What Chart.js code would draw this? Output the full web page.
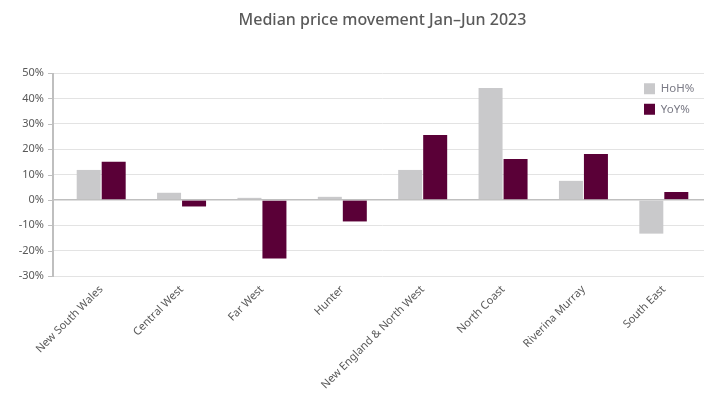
<!DOCTYPE html>
<html>
<head>
<meta charset="utf-8">
<script src="https://cdn.jsdelivr.net/npm/chart.js@4/dist/chart.umd.min.js"></script>
<style>
html,body{margin:0;padding:0;background:#fff;}
#wrap{width:726px;height:409px;}
</style>
</head>
<body>
<div id="wrap"><canvas id="c" width="726" height="409"></canvas></div>
<script>
const categories = ["New South Wales","Central West","Far West","Hunter","New England & North West","North Coast","Riverina Murray","South East"];
const hohValues = [11.8, 2.8, 0.8, 1.2, 11.8, 44.1, 7.5, -13.3];
const yoyValues = [15.0, -2.6, -23.1, -8.5, 25.6, 16.1, 18.1, 3.1];
const yTickMin = -30, yTickMax = 50, yTickStep = 10;
const titleText = "Median price movement Jan\u2013Jun 2023";

const FONT = "'Noto Sans', 'DejaVu Sans', sans-serif";
const TXT = '#595959';

const axisPlugin = {
  id: 'axisPlugin',
  afterLayout(chart) {
    const lg = chart.legend;
    if (lg) {
      lg.left = chart.chartArea.right - 69;
      lg.top = chart.chartArea.top + 1;
    }
  },
  afterDatasetsDraw(chart) {
    const y = chart.scales.y, ca = chart.chartArea, ctx = chart.ctx;
    const ax = ca.left - 8;
    ctx.save();
    ctx.strokeStyle = '#bfbfbf';
    ctx.lineWidth = 2;
    ctx.beginPath();
    ctx.moveTo(ax, ca.top);
    ctx.lineTo(ax, ca.bottom + 1);
    ctx.stroke();
    ctx.lineWidth = 1;
    y.ticks.forEach((t, i) => {
      const py = Math.round(y.getPixelForTick(i)) + 0.5;
      ctx.beginPath();
      ctx.moveTo(ax - 5, py);
      ctx.lineTo(ax, py);
      ctx.stroke();
    });
    ctx.restore();
  }
};

new Chart(document.getElementById('c'), {
  type: 'bar',
  data: {
    labels: categories,
    datasets: [
      { label: 'HoH%', data: hohValues, backgroundColor: '#c9c9cb', categoryPercentage: 0.622, barPercentage: 0.96 },
      { label: 'YoY%', data: yoyValues, backgroundColor: '#5a0037', categoryPercentage: 0.622, barPercentage: 0.96 }
    ]
  },
  options: {
    responsive: false,
    animation: false,
    devicePixelRatio: 1,
    layout: { padding: { left: 0, right: 22, top: 0, bottom: 0 } },
    plugins: {
      title: {
        display: true, text: titleText, fullSize: false,
        color: '#5a5a5a', font: { family: FONT, size: 16, weight: '500', lineHeight: 1.2 },
        padding: { top: 11, bottom: 42.8 }
      },
      legend: {
        position: 'chartArea', align: 'start',
        labels: { boxWidth: 11, boxHeight: 11, padding: 9, color: '#7a7a85', font: { family: FONT, size: 11.5 } }
      },
      tooltip: { enabled: false }
    },
    scales: {
      x: {
        offset: true,
        grid: { display: false, drawTicks: false },
        border: { display: false },
        ticks: { color: TXT, font: { family: FONT, size: 11 }, maxRotation: 45, minRotation: 45, autoSkip: false, padding: 7 },
        afterFit(s) { s.height = 133; }
      },
      y: {
        min: yTickMin, max: yTickMax,
        border: { display: false },
        grid: {
          color: c => (c.tick && c.tick.value === 0) ? '#bfbfbf' : '#e3e3e3',
          tickColor: c => (c.tick && c.tick.value === 0) ? '#bfbfbf' : '#e3e3e3',
          lineWidth: c => (c.tick && c.tick.value === 0) ? 1.5 : 1,
          drawTicks: true, tickLength: 8
        },
        ticks: { stepSize: yTickStep, padding: 9, color: TXT, font: { family: FONT, size: 11 }, callback: v => v + '%' },
        afterFit(s) { s.width = 61; }
      }
    }
  },
  plugins: [axisPlugin]
});
</script>
</body>
</html>
